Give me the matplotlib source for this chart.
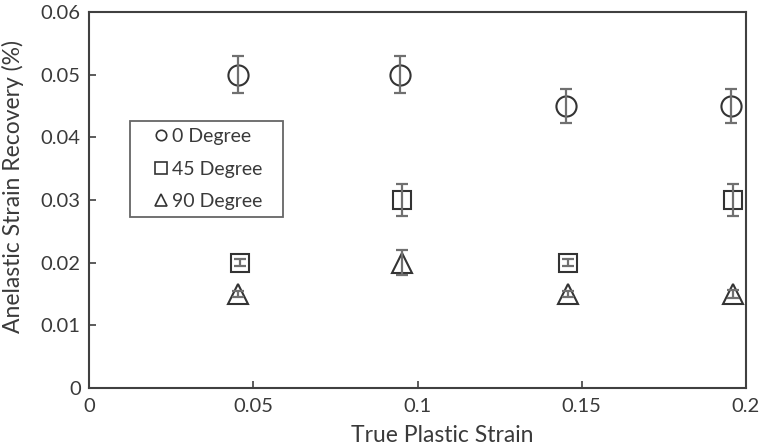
import matplotlib
matplotlib.use("Agg")
import matplotlib.pyplot as plt
from matplotlib.lines import Line2D

plt.rcParams['font.family'] = ['Lato', 'DejaVu Sans']

x0 = [0.0454, 0.0947, 0.1452, 0.1954]
y0 = [0.050, 0.050, 0.045, 0.045]
e0 = [0.003, 0.003, 0.0027, 0.0027]

x45 = [0.0460, 0.0953, 0.1458, 0.1960]
y45 = [0.020, 0.030, 0.020, 0.030]
e45 = [0.0006, 0.0026, 0.0006, 0.0026]

x90 = [0.0454, 0.0953, 0.1458, 0.1960]
y90 = [0.015, 0.020, 0.015, 0.015]
e90 = [0.0005, 0.002, 0.0005, 0.0007]

labels = ['0 Degree', '45 Degree', '90 Degree']

fig = plt.figure(figsize=(7.65, 4.45), dpi=100)
ax = fig.add_axes([89/765, 1-388/445, (746-89)/765, (388-12)/445])

series = [(x0, y0, e0, 'o', 14.5), (x45, y45, e45, 's', 12.5), (x90, y90, e90, '^', 14.5)]
for xs, ys, es, m, ms in series:
    ax.plot(xs, ys, linestyle='none', marker=m, markersize=ms,
            markerfacecolor='white', markeredgecolor='#333333', markeredgewidth=1.5, zorder=2)
    ax.errorbar(xs, ys, yerr=es, fmt='none', ecolor='#707070', elinewidth=1.6,
                capsize=4, capthick=1.6, zorder=3)

ax.set_xlim(0, 0.2)
ax.set_ylim(0, 0.06)
ax.set_xticks([0, 0.05, 0.1, 0.15, 0.2])
ax.set_xticklabels(['0', '0.05', '0.1', '0.15', '0.2'])
ax.set_yticks([0, 0.01, 0.02, 0.03, 0.04, 0.05, 0.06])
ax.set_yticklabels(['0', '0.01', '0.02', '0.03', '0.04', '0.05', '0.06'])
ax.tick_params(direction='in', length=5, width=1.2, colors='#404040',
               labelcolor='#3a3a3a', labelsize=14.5)
ax.tick_params(axis='x', pad=7)
ax.tick_params(axis='y', pad=6)
for s in ax.spines.values():
    s.set_color('#404040')
    s.set_linewidth(1.5)

ax.set_xlabel('True Plastic Strain', fontsize=16.5, color='#3a3a3a')
ax.xaxis.label.set_verticalalignment('top')
ax.xaxis.set_label_coords(0.537, -0.098)
ax.set_ylabel('Anelastic Strain Recovery (%)', fontsize=16.5, color='#3a3a3a')
ax.yaxis.label.set_verticalalignment('center')
ax.yaxis.set_label_coords(-0.115, 0.536)

handles = [Line2D([], [], linestyle='none', marker=m, markersize=ms,
                  markerfacecolor='white', markeredgecolor='#333333', markeredgewidth=1.2)
           for m, ms in [('o', 7.5), ('s', 8.5), ('^', 8.5)]]
leg = ax.legend(handles, labels, loc='upper left',
                bbox_to_anchor=((130-89)/657, (388-121)/376, (283-130)/657, 0),
                mode='expand', frameon=True, fancybox=False, edgecolor='#404040',
                fontsize=14, handletextpad=-0.65, handlelength=2.45, borderpad=0.37,
                labelspacing=0.8, borderaxespad=0)
leg.get_frame().set_linewidth(1.3)
for t in leg.get_texts():
    t.set_color('#3a3a3a')

fig.savefig('out.png', dpi=100)
